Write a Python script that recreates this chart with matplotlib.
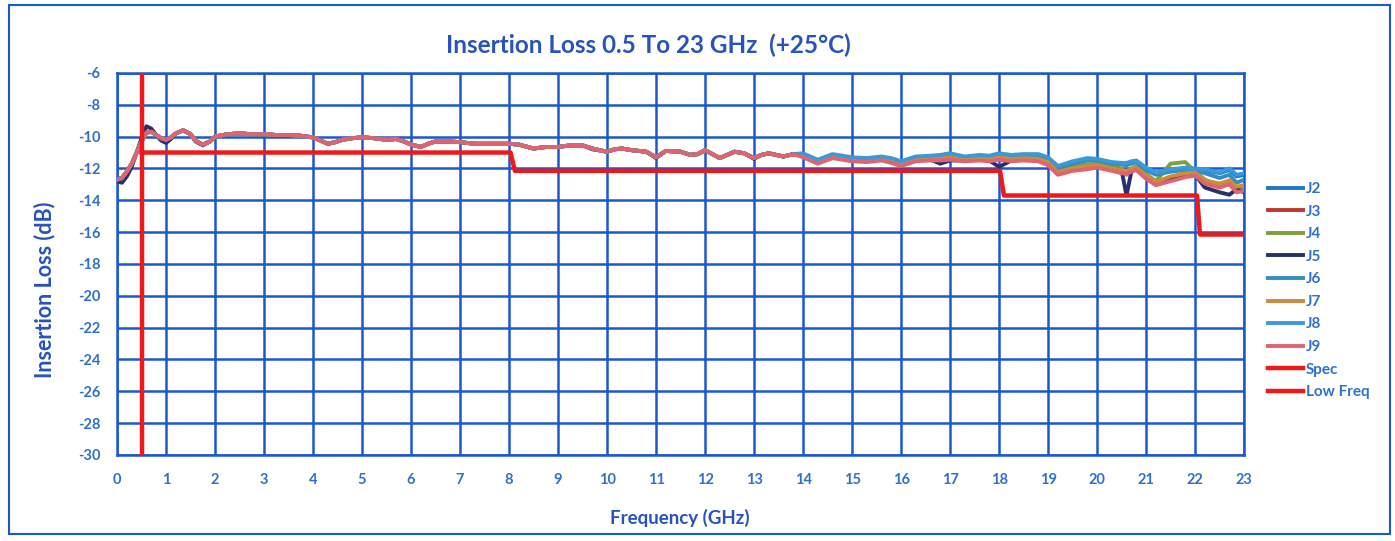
import numpy as np
import matplotlib
matplotlib.use('Agg')
import matplotlib.pyplot as plt
from matplotlib import rc
from matplotlib.patches import Rectangle
from matplotlib.ticker import MultipleLocator

rc('font', family=['Lato', 'DejaVu Sans'], weight='bold')
rc('axes', unicode_minus=False)

# frequency grid, low part (all traces nearly on top of each other)
freq_lo = [0.0, 0.1, 0.2, 0.3, 0.4, 0.5, 0.6, 0.7, 0.8, 0.9,
           1.0, 1.1, 1.2, 1.35, 1.5, 1.6, 1.75, 1.9, 2.0, 2.25,
           2.5, 2.75, 3.0, 3.25, 3.5, 3.75, 4.0, 4.15, 4.3, 4.45,
           4.6, 4.8, 5.0, 5.25, 5.5, 5.7, 5.85, 6.0, 6.2, 6.35,
           6.5, 6.75, 7.0, 7.3, 7.6, 7.8, 8.0, 8.2, 8.5, 8.75,
           9.0, 9.25, 9.5, 9.7, 10.0, 10.15, 10.3, 10.5, 10.8, 11.0,
           11.2, 11.5, 11.7, 11.85, 12.0, 12.15, 12.3, 12.6, 12.8, 13.0,
           13.15, 13.3, 13.6, 13.8]

lo_common_db = [-12.7, -12.6, -12.2, -11.7, -11.0, -10.3, -9.75, -9.7, -9.9, -10.1,
                -10.2, -10.05, -9.8, -9.6, -9.85, -10.25, -10.5, -10.3, -10.0, -9.85,
                -9.8, -9.85, -9.85, -9.9, -9.9, -9.95, -10.05, -10.25, -10.45, -10.35,
                -10.2, -10.1, -10.05, -10.1, -10.2, -10.15, -10.3, -10.5, -10.65, -10.45,
                -10.3, -10.3, -10.35, -10.45, -10.45, -10.45, -10.45, -10.5, -10.75, -10.65,
                -10.65, -10.55, -10.55, -10.75, -10.95, -10.8, -10.75, -10.85, -10.95, -11.3,
                -10.9, -10.95, -11.15, -11.1, -10.85, -11.1, -11.35, -10.95, -11.05, -11.35,
                -11.15, -11.05, -11.25, -11.1]

lo_j5_db = [-12.8, -12.9, -12.5, -11.9, -11.0, -10.1, -9.35, -9.5, -9.9, -10.25,
            -10.4, -10.15, -9.8, -9.6, -9.85, -10.3, -10.55, -10.3, -10.0, -9.85,
            -9.8, -9.85, -9.85, -9.9, -9.9, -9.95, -10.05, -10.25, -10.45, -10.35,
            -10.2, -10.1, -10.05, -10.1, -10.2, -10.15, -10.3, -10.5, -10.65, -10.45,
            -10.3, -10.3, -10.35, -10.45, -10.45, -10.45, -10.45, -10.5, -10.75, -10.65,
            -10.65, -10.55, -10.55, -10.8, -10.95, -10.8, -10.75, -10.85, -10.95, -11.35,
            -10.9, -10.95, -11.15, -11.1, -10.85, -11.1, -11.35, -10.95, -11.05, -11.4,
            -11.15, -11.05, -11.25, -11.1]

# high part, where the traces spread apart
freq_hi = [14.0, 14.3, 14.6, 14.8, 15.0, 15.3, 15.6, 15.8, 16.0, 16.3,
           16.6, 16.8, 17.0, 17.3, 17.6, 17.8, 18.0, 18.25, 18.5, 18.8,
           19.0, 19.2, 19.5, 19.8, 20.0, 20.3, 20.5, 20.6, 20.7, 20.8,
           21.0, 21.2, 21.5, 21.8, 22.0, 22.2, 22.5, 22.7, 22.85, 23.0]

j2_hi = [-11.1, -11.5, -11.15, -11.25, -11.35, -11.4, -11.3, -11.4, -11.6, -11.3,
         -11.25, -11.2, -11.1, -11.3, -11.2, -11.25, -11.1, -11.2, -11.15, -11.15,
         -11.35, -11.9, -11.6, -11.4, -11.45, -11.65, -11.7, -11.7, -11.6, -11.55,
         -12.0, -12.3, -12.1, -12.0, -12.05, -12.1, -12.3, -12.1, -12.5, -12.4]
j3_hi = [-11.25, -11.65, -11.3, -11.4, -11.5, -11.55, -11.45, -11.6, -11.8, -11.5,
         -11.45, -11.45, -11.4, -11.5, -11.45, -11.5, -11.4, -11.5, -11.45, -11.5,
         -11.75, -12.35, -12.1, -12.0, -11.9, -12.1, -12.25, -12.3, -12.15, -12.05,
         -12.6, -13.0, -12.75, -12.5, -12.4, -12.9, -13.1, -12.95, -13.35, -13.25]
j4_hi = [-11.2, -11.6, -11.25, -11.35, -11.45, -11.5, -11.4, -11.5, -11.7, -11.45,
         -11.35, -11.2, -11.05, -11.4, -11.35, -11.4, -11.3, -11.4, -11.35, -11.35,
         -11.55, -12.2, -11.9, -11.75, -11.7, -11.9, -12.0, -12.4, -12.0, -11.85,
         -12.35, -12.8, -11.7, -11.6, -12.2, -12.7, -13.1, -12.9, -13.3, -13.2]
j5_hi = [-11.2, -11.65, -11.3, -11.4, -11.5, -11.55, -11.45, -11.55, -11.75, -11.5,
         -11.45, -11.7, -11.5, -11.5, -11.45, -11.5, -11.9, -11.5, -11.45, -11.5,
         -11.75, -12.3, -12.1, -11.95, -11.9, -12.05, -12.1, -13.7, -12.2, -12.0,
         -12.5, -12.95, -12.6, -12.4, -12.4, -13.2, -13.5, -13.65, -13.3, -13.5]
j6_hi = [-11.15, -11.55, -11.2, -11.3, -11.4, -11.45, -11.35, -11.45, -11.65, -11.35,
         -11.3, -11.25, -11.15, -11.35, -11.25, -11.3, -11.15, -11.25, -11.2, -11.2,
         -11.4, -11.95, -11.7, -11.5, -11.5, -11.7, -11.75, -11.8, -11.7, -11.6,
         -12.1, -12.4, -12.2, -12.1, -12.15, -12.3, -12.6, -12.4, -12.9, -12.7]
j7_hi = [-11.2, -11.6, -11.25, -11.35, -11.45, -11.5, -11.4, -11.5, -11.7, -11.45,
         -11.4, -11.35, -11.3, -11.4, -11.35, -11.4, -11.3, -11.4, -11.35, -11.4,
         -11.6, -12.25, -12.0, -11.85, -11.8, -12.0, -12.1, -12.15, -12.05, -11.95,
         -12.45, -12.85, -12.5, -12.3, -12.25, -12.75, -12.95, -12.75, -13.15, -13.05]
j8_hi = [-11.05, -11.45, -11.1, -11.2, -11.3, -11.35, -11.25, -11.35, -11.55, -11.25,
         -11.2, -11.15, -11.05, -11.25, -11.15, -11.2, -11.05, -11.15, -11.1, -11.1,
         -11.3, -11.85, -11.55, -11.35, -11.4, -11.6, -11.65, -11.65, -11.55, -11.5,
         -11.95, -12.25, -12.05, -11.95, -12.0, -12.05, -12.25, -12.0, -12.4, -12.3]
j9_hi = [-11.3, -11.7, -11.35, -11.45, -11.55, -11.6, -11.5, -11.65, -11.85, -11.55,
         -11.5, -11.5, -11.45, -11.55, -11.5, -11.55, -11.45, -11.55, -11.5, -11.55,
         -11.8, -12.4, -12.15, -12.05, -11.95, -12.15, -12.3, -12.35, -12.2, -12.1,
         -12.65, -13.05, -12.8, -12.55, -12.45, -12.95, -13.2, -13.0, -13.5, -13.4]

trace_names = ['J2', 'J3', 'J4', 'J5', 'J6', 'J7', 'J8', 'J9']
trace_colors = ['#1f77c9', '#c0392b', '#7f9f3f', '#27306b',
                '#2f8fc0', '#d08a3c', '#3a9ad8', '#e06470']

# spec mask and low frequency limit
spec_freq = [0.5, 8.03, 8.12, 18.02, 18.1, 22.04, 22.1, 23.0]
spec_db = [-11.0, -11.0, -12.15, -12.15, -13.7, -13.7, -16.15, -16.15]
lowf_freq = [0.5, 0.5]
lowf_db = [-30.0, -6.0]

blue = '#1a58d0'
text_blue = '#2852bc'
tick_blue = '#2f6fd0'


def main():
	fig = plt.figure(figsize=(13.95, 5.41), dpi=100)
	ax = fig.add_axes([0.0839, 0.159, 0.8079, 0.7062])

	freq = np.array(freq_lo + freq_hi)
	his = [j2_hi, j3_hi, j4_hi, j5_hi, j6_hi, j7_hi, j8_hi, j9_hi]
	handles = []
	for name, col, hi in zip(trace_names, trace_colors, his):
		lo = lo_j5_db if name == 'J5' else lo_common_db
		h, = ax.plot(freq, lo + hi, color=col, lw=2.8, label=name, zorder=3)
		handles.append(h)

	h, = ax.plot(spec_freq, spec_db, color='#f01818', lw=3.2, label='Spec', zorder=4)
	handles.append(h)
	h, = ax.plot(lowf_freq, lowf_db, color='#f01818', lw=3.2, label='Low Freq', zorder=4)
	handles.append(h)

	ax.set_xlim(0, 23)
	ax.set_ylim(-30, -6)
	ax.xaxis.set_major_locator(MultipleLocator(1))
	ax.yaxis.set_major_locator(MultipleLocator(2))
	ax.grid(True, color=blue, lw=1.8, zorder=1)
	ax.set_axisbelow(True)
	for sp in ax.spines.values():
		sp.set_color(blue)
		sp.set_linewidth(1.8)
	ax.tick_params(length=0, labelsize=10.5, labelcolor=tick_blue)
	ax.tick_params(axis='x', pad=13)
	ax.tick_params(axis='y', pad=12)

	fig.text(648 / 1395, 1 - 45 / 541, 'Insertion Loss 0.5 To 23 GHz  (+25°C)',
		ha='center', va='center', fontsize=17.5, color=text_blue, fontweight='bold')
	fig.text(680 / 1395, 1 - 518 / 541, 'Frequency (GHz)',
		ha='center', va='center', fontsize=13.5, color=text_blue, fontweight='bold')
	fig.text(45 / 1395, 1 - 290 / 541, 'Insertion Loss (dB)', rotation=90,
		ha='center', va='center', fontsize=15.5, color=text_blue, fontweight='bold')

	leg = fig.legend(handles=handles, loc='upper left', bbox_to_anchor=(1262 / 1395, 1 - 176 / 541),
		frameon=False, fontsize=11, handlelength=2.3, handletextpad=0.15, labelspacing=0.56,
		borderaxespad=0)
	for t in leg.get_texts():
		t.set_color(tick_blue)

	fig.patches.append(Rectangle((0.0065, 0.013), 0.99, 0.978, transform=fig.transFigure,
		fill=False, ec=blue, lw=1.5))

	plt.savefig('out.png', dpi=100)


if __name__ == "__main__":
	main()
